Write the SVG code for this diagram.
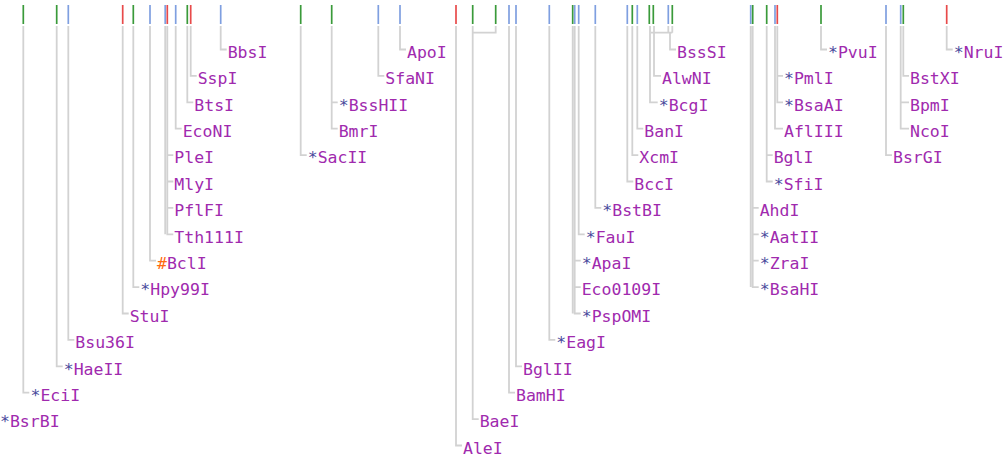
<svg xmlns="http://www.w3.org/2000/svg" width="1005" height="463" viewBox="0 0 1005 463">
<style>
.tg{stroke:#3a9a3a;stroke-width:1.7}
.tb{stroke:#7f9fe0;stroke-width:1.7}
.tr{stroke:#e84a4a;stroke-width:1.7}
.ln{stroke:#d2d2d2;stroke-width:1.8;fill:none}
text{font-family:"DejaVu Sans Mono","Liberation Mono",monospace;font-size:16.5px;fill:#a02aae}
.st{fill:#4a4a9c}
.hs{fill:#ff6a10}
</style>
<rect width="1005" height="463" fill="#ffffff"/>
<g id="ticks">
<line class="tg" x1="23.3" y1="5" x2="23.3" y2="24"/>
<line class="tg" x1="56.7" y1="5" x2="56.7" y2="24"/>
<line class="tb" x1="68.3" y1="5" x2="68.3" y2="24"/>
<line class="tr" x1="122.7" y1="5" x2="122.7" y2="24"/>
<line class="tg" x1="133.3" y1="5" x2="133.3" y2="24"/>
<line class="tb" x1="150" y1="5" x2="150" y2="24"/>
<line class="tb" x1="165.2" y1="5" x2="165.2" y2="24"/>
<line class="tr" x1="167.3" y1="5" x2="167.3" y2="24"/>
<line class="tb" x1="175.7" y1="5" x2="175.7" y2="24"/>
<line class="tg" x1="187.3" y1="5" x2="187.3" y2="24"/>
<line class="tr" x1="190.7" y1="5" x2="190.7" y2="24"/>
<line class="tb" x1="220.7" y1="5" x2="220.7" y2="24"/>
<line class="tg" x1="300.7" y1="5" x2="300.7" y2="24"/>
<line class="tg" x1="331.7" y1="5" x2="331.7" y2="24"/>
<line class="tb" x1="378.3" y1="5" x2="378.3" y2="24"/>
<line class="tb" x1="400" y1="5" x2="400" y2="24"/>
<line class="tr" x1="456" y1="5" x2="456" y2="24"/>
<line class="tg" x1="472.7" y1="5" x2="472.7" y2="24"/>
<line class="tg" x1="495.7" y1="5" x2="495.7" y2="24"/>
<line class="tb" x1="509" y1="5" x2="509" y2="24"/>
<line class="tb" x1="516" y1="5" x2="516" y2="24"/>
<line class="tb" x1="549.3" y1="5" x2="549.3" y2="24"/>
<line class="tg" x1="572.7" y1="5" x2="572.7" y2="24"/>
<line class="tb" x1="574.7" y1="5" x2="574.7" y2="24"/>
<line class="tb" x1="578.7" y1="5" x2="578.7" y2="24"/>
<line class="tb" x1="595.3" y1="5" x2="595.3" y2="24"/>
<line class="tb" x1="627.3" y1="5" x2="627.3" y2="24"/>
<line class="tg" x1="632.3" y1="5" x2="632.3" y2="24"/>
<line class="tb" x1="637.3" y1="5" x2="637.3" y2="24"/>
<line class="tg" x1="649.3" y1="5" x2="649.3" y2="24"/>
<line class="tg" x1="653.3" y1="5" x2="653.3" y2="24"/>
<line class="tb" x1="668.3" y1="5" x2="668.3" y2="24"/>
<line class="tg" x1="672.3" y1="5" x2="672.3" y2="24"/>
<line class="tb" x1="750.7" y1="5" x2="750.7" y2="24"/>
<line class="tg" x1="752.7" y1="5" x2="752.7" y2="24"/>
<line class="tg" x1="766.7" y1="5" x2="766.7" y2="24"/>
<line class="tb" x1="775" y1="5" x2="775" y2="24"/>
<line class="tr" x1="777.3" y1="5" x2="777.3" y2="24"/>
<line class="tg" x1="821" y1="5" x2="821" y2="24"/>
<line class="tb" x1="886" y1="5" x2="886" y2="24"/>
<line class="tb" x1="900.7" y1="5" x2="900.7" y2="24"/>
<line class="tg" x1="903.3" y1="5" x2="903.3" y2="24"/>
<line class="tr" x1="946.7" y1="5" x2="946.7" y2="24"/>
</g>
<g id="connectors">
<path class="ln" d="M23.3 26V392.7H29.3"/>
<path class="ln" d="M56.7 26V366.3H62.7"/>
<path class="ln" d="M68.3 26V339.9H74.3"/>
<path class="ln" d="M122.7 26V313.5H128.7"/>
<path class="ln" d="M133.3 26V287.1H139.3"/>
<path class="ln" d="M150 26V260.7H156"/>
<path class="ln" d="M165.2 26V234.3M167.3 26V234.3H173.3M167.3 155.1H173.3M167.3 181.5H173.3M167.3 207.9H173.3"/>
<path class="ln" d="M175.7 26V128.7H181.7"/>
<path class="ln" d="M187.3 26V102.3H193.3"/>
<path class="ln" d="M190.7 26V75.9H196.7"/>
<path class="ln" d="M220.7 26V49.5H226.7"/>
<path class="ln" d="M300.7 26V155.1H306.7"/>
<path class="ln" d="M331.7 26V128.7H337.7M331.7 102.3H337.7"/>
<path class="ln" d="M378.3 26V75.9H384.3"/>
<path class="ln" d="M400 26V49.5H406"/>
<path class="ln" d="M456 26V445.5H462"/>
<path class="ln" d="M495.7 26V32.7H472.7M472.7 26V419.1H478.7"/>
<path class="ln" d="M509 26V392.7H515"/>
<path class="ln" d="M516 26V366.3H522"/>
<path class="ln" d="M549.3 26V339.9H555.3"/>
<path class="ln" d="M572.7 26V313.5M574.7 26V313.5H580.7M574.7 260.7H580.7M574.7 287.1H580.7"/>
<path class="ln" d="M578.7 26V234.3H584.7"/>
<path class="ln" d="M595.3 26V207.9H601.3"/>
<path class="ln" d="M627.3 26V181.5H633.3"/>
<path class="ln" d="M632.3 26V155.1H638.3"/>
<path class="ln" d="M637.3 26V128.7H643.3"/>
<path class="ln" d="M668.3 26V32.7M672.3 26V32.7M651 32.7H672.3"/>
<path class="ln" d="M650 26V102.3H657.7"/>
<path class="ln" d="M654 26V75.9H661"/>
<path class="ln" d="M670 32.7V49.5H676"/>
<path class="ln" d="M750.7 26V287.1M752.7 26V287.1H758.7M752.7 207.9H758.7M752.7 234.3H758.7M752.7 260.7H758.7"/>
<path class="ln" d="M766.7 26V181.5H772.7M766.7 155.1H772.7"/>
<path class="ln" d="M775 26V128.7H783M777.3 26V102.3H783M777.3 75.9H783"/>
<path class="ln" d="M821 26V49.5H827"/>
<path class="ln" d="M886 26V155.1H892"/>
<path class="ln" d="M900.7 26V128.7H909M900.7 102.3H909M903.3 26V75.9H909"/>
<path class="ln" d="M946.7 26V49.5H952.7"/>
</g>
<g id="BsrBI"><text x="0" y="427.3"><tspan class="st">*</tspan>BsrBI</text></g>
<g id="EciI"><text x="30.5" y="400.9"><tspan class="st">*</tspan>EciI</text></g>
<g id="HaeII"><text x="63.7" y="374.5"><tspan class="st">*</tspan>HaeII</text></g>
<g id="Bsu36I"><text x="75.3" y="348.1">Bsu36I</text></g>
<g id="StuI"><text x="129.7" y="321.7">StuI</text></g>
<g id="Hpy99I"><text x="140.3" y="295.3"><tspan class="st">*</tspan>Hpy99I</text></g>
<g id="BclI"><text x="157" y="268.9"><tspan class="hs">#</tspan>BclI</text></g>
<g id="Tth111I"><text x="174.3" y="242.5">Tth111I</text></g>
<g id="PflFI"><text x="174.3" y="216.1">PflFI</text></g>
<g id="MlyI"><text x="174.3" y="189.7">MlyI</text></g>
<g id="PleI"><text x="174.3" y="163.3">PleI</text></g>
<g id="EcoNI"><text x="182.7" y="136.9">EcoNI</text></g>
<g id="BtsI"><text x="194.3" y="110.5">BtsI</text></g>
<g id="SspI"><text x="197.7" y="84.1">SspI</text></g>
<g id="BbsI"><text x="227.7" y="57.7">BbsI</text></g>
<g id="SacII"><text x="307.7" y="163.3"><tspan class="st">*</tspan>SacII</text></g>
<g id="BmrI"><text x="338.7" y="136.9">BmrI</text></g>
<g id="BssHII"><text x="338.7" y="110.5"><tspan class="st">*</tspan>BssHII</text></g>
<g id="SfaNI"><text x="385.3" y="84.1">SfaNI</text></g>
<g id="ApoI"><text x="407" y="57.7">ApoI</text></g>
<g id="AleI"><text x="463" y="453.7">AleI</text></g>
<g id="BaeI"><text x="479.7" y="427.3">BaeI</text></g>
<g id="BamHI"><text x="516" y="400.9">BamHI</text></g>
<g id="BglII"><text x="523" y="374.5">BglII</text></g>
<g id="EagI"><text x="556.3" y="348.1"><tspan class="st">*</tspan>EagI</text></g>
<g id="PspOMI"><text x="581.7" y="321.7"><tspan class="st">*</tspan>PspOMI</text></g>
<g id="Eco0109I"><text x="581.7" y="295.3">Eco0109I</text></g>
<g id="ApaI"><text x="581.7" y="268.9"><tspan class="st">*</tspan>ApaI</text></g>
<g id="FauI"><text x="585.7" y="242.5"><tspan class="st">*</tspan>FauI</text></g>
<g id="BstBI"><text x="602.3" y="216.1"><tspan class="st">*</tspan>BstBI</text></g>
<g id="BccI"><text x="634.3" y="189.7">BccI</text></g>
<g id="XcmI"><text x="639.3" y="163.3">XcmI</text></g>
<g id="BanI"><text x="644.3" y="136.9">BanI</text></g>
<g id="BcgI"><text x="658.7" y="110.5"><tspan class="st">*</tspan>BcgI</text></g>
<g id="AlwNI"><text x="662" y="84.1">AlwNI</text></g>
<g id="BssSI"><text x="677" y="57.7">BssSI</text></g>
<g id="BsaHI"><text x="759.7" y="295.3"><tspan class="st">*</tspan>BsaHI</text></g>
<g id="ZraI"><text x="759.7" y="268.9"><tspan class="st">*</tspan>ZraI</text></g>
<g id="AatII"><text x="759.7" y="242.5"><tspan class="st">*</tspan>AatII</text></g>
<g id="AhdI"><text x="759.7" y="216.1">AhdI</text></g>
<g id="SfiI"><text x="773.7" y="189.7"><tspan class="st">*</tspan>SfiI</text></g>
<g id="BglI"><text x="773.7" y="163.3">BglI</text></g>
<g id="AflIII"><text x="784" y="136.9">AflIII</text></g>
<g id="BsaAI"><text x="784" y="110.5"><tspan class="st">*</tspan>BsaAI</text></g>
<g id="PmlI"><text x="784" y="84.1"><tspan class="st">*</tspan>PmlI</text></g>
<g id="PvuI"><text x="828" y="57.7"><tspan class="st">*</tspan>PvuI</text></g>
<g id="BsrGI"><text x="893" y="163.3">BsrGI</text></g>
<g id="NcoI"><text x="910" y="136.9">NcoI</text></g>
<g id="BpmI"><text x="910" y="110.5">BpmI</text></g>
<g id="BstXI"><text x="910" y="84.1">BstXI</text></g>
<g id="NruI"><text x="953.7" y="57.7"><tspan class="st">*</tspan>NruI</text></g>
</svg>
